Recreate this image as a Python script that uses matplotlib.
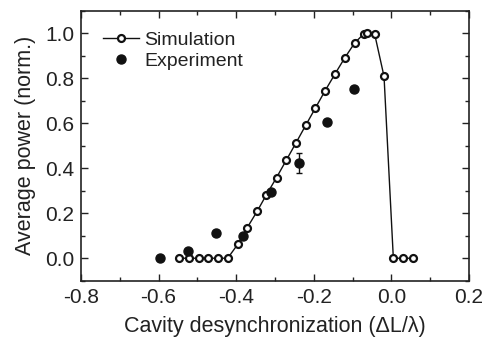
import numpy as np
import matplotlib
matplotlib.use("Agg")
import matplotlib.pyplot as plt
from matplotlib.ticker import MultipleLocator
from matplotlib.lines import Line2D

plt.rcParams['font.family'] = ['Liberation Sans', 'DejaVu Sans']
plt.rcParams['axes.unicode_minus'] = False

# simulation (open circles, joined)
sim_x = [-0.547, -0.522, -0.497, -0.472, -0.447, -0.422, -0.396, -0.372, -0.346,
         -0.322, -0.296, -0.271, -0.246, -0.221, -0.196, -0.171, -0.145, -0.120,
         -0.095, -0.071, -0.062, -0.043, -0.019, 0.005, 0.030, 0.055]
sim_y = [0.0, 0.0, 0.0, 0.0, 0.0, 0.0, 0.062, 0.135, 0.209,
         0.283, 0.359, 0.436, 0.513, 0.591, 0.668, 0.745, 0.821, 0.892,
         0.957, 0.999, 1.0, 0.996, 0.809, 0.0, 0.0, 0.0]

# experiment (filled circles)
exp_x = [-0.597, -0.525, -0.453, -0.382, -0.311, -0.238, -0.167, -0.096]
exp_y = [0.0, 0.033, 0.114, 0.098, 0.293, 0.425, 0.606, 0.754]
exp_err = [0, 0, 0, 0, 0, 0.044, 0, 0]

fig = plt.figure(figsize=(4.84, 3.44), dpi=100)
ax = fig.add_axes([0.1674, 0.184, 0.8016, 0.784])

sim_line, = ax.plot(sim_x, sim_y, '-o', color='#111111', lw=1.0, ms=5, mfc='white',
                    mec='#111111', mew=1.6, zorder=3)
ax.errorbar(exp_x, exp_y, yerr=exp_err, fmt='o', color='#111111', ms=6.5,
            elinewidth=1.0, capsize=2.5, capthick=1.0, zorder=4)
exp_handle = Line2D([], [], ls='none', marker='o', color='#111111', ms=6.5)

ax.set_xlim(-0.8, 0.2)
ax.set_ylim(-0.1, 1.1)
ax.xaxis.set_major_locator(MultipleLocator(0.2))
ax.xaxis.set_minor_locator(MultipleLocator(0.1))
ax.yaxis.set_major_locator(MultipleLocator(0.2))
ax.yaxis.set_minor_locator(MultipleLocator(0.1))
ax.set_yticks([0.0, 0.2, 0.4, 0.6, 0.8, 1.0])
ax.tick_params(which='both', direction='in', top=True, right=True,
               labelsize=15, colors='#222222', width=1.0, pad=5)
ax.tick_params(which='major', length=5)
ax.tick_params(which='minor', length=3)
for s in ax.spines.values():
    s.set_linewidth(1.2)
    s.set_color('#222222')

ax.set_xlabel('Cavity desynchronization (ΔL/λ)', fontsize=15.5, color='#222222', labelpad=7)
ax.set_ylabel('Average power (norm.)', fontsize=15.5, color='#222222', labelpad=6)

ax.legend([sim_line, exp_handle], ['Simulation', 'Experiment'], loc='upper left',
          frameon=False, fontsize=14, handlelength=1.85, handletextpad=0.3,
          labelspacing=0.2, borderaxespad=0.0, bbox_to_anchor=(0.036, 0.955),
          labelcolor='#222222')

fig.savefig('out.png', dpi=100)
